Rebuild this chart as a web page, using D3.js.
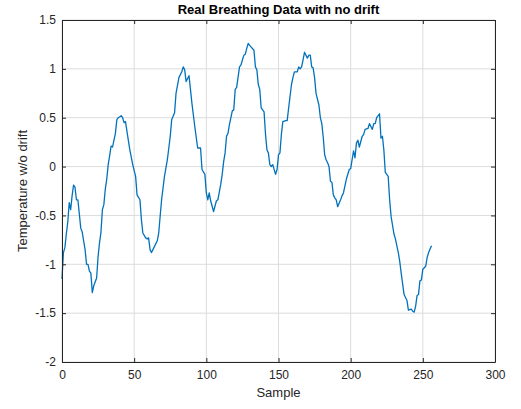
<!DOCTYPE html>
<html>
<head>
<meta charset="utf-8">
<script src="https://cdn.jsdelivr.net/npm/d3@7"></script>
<style>
  html, body { margin: 0; padding: 0; background: #fff; }
  svg { display: block; font-family: "Liberation Sans", Arial, sans-serif; }
</style>
</head>
<body>
<svg id="chart" width="521" height="409"></svg>
<script>
// ---- data ----
const titleText = "Real Breathing Data with no drift";
const xLabelText = "Sample";
const yLabelText = "Temperature w/o drift";
const xTicks = [0, 50, 100, 150, 200, 250, 300];
const yTicks = [-2, -1.5, -1, -0.5, 0, 0.5, 1, 1.5];
const sampleIndex = [
  0,1,2,3,4,5,6,7,8,9,10,11,13,14,16,17,18,19,20,21,22,24,25,26,27,28,29,30,31,32,
  33,34,35,37,38,39,41,42,43,44,45,47,49,51,52,54,55,56,58,59,60,61,62,63,66,67,69,71,73,75,
  76,78,79,81,83,84,85,86,88,89,90,92,94,96,97,99,100,101,102,103,105,107,108,110,111,112,113,114,115,116,
  118,119,120,121,123,124,126,127,128,129,130,133,134,135,136,137,138,140,141,142,143,144,145,146,148,149,150,151,152,153,
  155,156,158,159,160,161,163,164,165,166,167,168,170,171,172,173,174,175,176,178,179,180,181,182,183,184,185,186,187,188,
  189,190,191,193,194,195,196,197,199,200,201,202,203,204,205,206,208,209,210,212,213,215,216,217,218,220,221,222,223,224,
  226,227,228,230,231,233,234,235,236,237,238,239,240,242,243,244,245,246,247,248,249,250,252,253,254,256
];
const temperature = [
  -1.15,-0.88,-0.83,-0.69,-0.57,-0.37,-0.44,-0.30,-0.19,-0.21,-0.34,-0.34,-0.63,-0.67,-0.85,-1.00,-1.00,-1.07,-1.09,-1.29,-1.22,-1.14,-0.92,-0.78,-0.67,-0.44,-0.39,-0.23,-0.13,0.02,
  0.11,0.21,0.20,0.34,0.48,0.50,0.52,0.50,0.45,0.46,0.36,0.17,0.02,-0.10,-0.29,-0.34,-0.54,-0.68,-0.73,-0.74,-0.73,-0.85,-0.88,-0.85,-0.76,-0.68,-0.34,-0.10,0.07,0.31,
  0.48,0.55,0.75,0.91,0.97,1.02,0.99,0.87,0.93,0.79,0.65,0.41,0.19,0.19,-0.03,-0.08,-0.27,-0.34,-0.27,-0.35,-0.46,-0.35,-0.34,-0.18,-0.08,0.05,0.14,0.31,0.34,0.43,
  0.57,0.58,0.79,0.81,1.02,1.04,1.14,1.15,1.21,1.26,1.24,1.19,1.02,0.99,0.84,0.79,0.60,0.56,0.33,0.17,0.14,0.02,0.00,0.02,-0.08,-0.03,0.12,0.14,0.33,0.46,
  0.47,0.47,0.72,0.84,0.91,0.97,0.97,1.02,1.00,1.02,1.09,1.17,1.11,1.14,1.14,1.02,1.01,0.91,0.75,0.63,0.50,0.44,0.30,0.12,0.07,0.04,0.00,-0.15,-0.16,-0.29,
  -0.32,-0.34,-0.41,-0.34,-0.30,-0.27,-0.20,-0.13,-0.03,-0.02,0.07,0.16,0.09,0.24,0.27,0.20,0.31,0.33,0.38,0.39,0.44,0.38,0.44,0.44,0.50,0.54,0.29,0.31,0.17,-0.06,
  -0.10,-0.34,-0.51,-0.69,-0.74,-0.88,-0.97,-1.09,-1.20,-1.31,-1.34,-1.37,-1.47,-1.46,-1.48,-1.49,-1.43,-1.32,-1.31,-1.17,-1.16,-1.05,-1.02,-0.93,-0.88,-0.81
];

// ---- layout ----
const svg = d3.select("#chart");
const margin = { left: 62, top: 20, right: 521 - 495, bottom: 409 - 362 };
const W = 521, H = 409;
const x = d3.scaleLinear().domain([0, 300]).range([margin.left, W - margin.right]);
const y = d3.scaleLinear().domain([-2, 1.5]).range([H - margin.bottom, margin.top]);
const axisColor = "#262626";

// grid
const grid = svg.append("g");
grid.selectAll("line.gx").data(xTicks).join("line")
  .attr("x1", d => x(d)).attr("x2", d => x(d))
  .attr("y1", y(-2)).attr("y2", y(1.5))
  .attr("stroke", "#dcdcdc").attr("stroke-width", 1);
grid.selectAll("line.gy").data(yTicks).join("line")
  .attr("y1", d => y(d)).attr("y2", d => y(d))
  .attr("x1", x(0)).attr("x2", x(300))
  .attr("stroke", "#dcdcdc").attr("stroke-width", 1);

// data line
const data = sampleIndex.map((s, i) => [s, temperature[i]]);
svg.append("path").datum(data)
  .attr("fill", "none").attr("stroke", "#0072BD").attr("stroke-width", 1.3)
  .attr("stroke-linejoin", "round")
  .attr("d", d3.line().x(d => x(d[0])).y(d => y(d[1])));

// axes
const fmt = d => String(d);
const xAxisB = svg.append("g").attr("transform", `translate(0,${y(-2)})`)
  .call(d3.axisBottom(x).tickValues(xTicks).tickFormat(fmt).tickSizeInner(-4).tickSizeOuter(0).tickPadding(8));
const xAxisT = svg.append("g").attr("transform", `translate(0,${y(1.5)})`)
  .call(d3.axisTop(x).tickValues(xTicks).tickFormat("").tickSizeInner(-4).tickSizeOuter(0));
const yAxisL = svg.append("g").attr("transform", `translate(${x(0)},0)`)
  .call(d3.axisLeft(y).tickValues(yTicks).tickFormat(fmt).tickSizeInner(-4).tickSizeOuter(0).tickPadding(6));
const yAxisR = svg.append("g").attr("transform", `translate(${x(300)},0)`)
  .call(d3.axisRight(y).tickValues(yTicks).tickFormat("").tickSizeInner(-4).tickSizeOuter(0));

[xAxisB, xAxisT, yAxisL, yAxisR].forEach(g => {
  g.select(".domain").attr("stroke", axisColor).attr("stroke-width", 1);
  g.selectAll(".tick line").attr("stroke", axisColor);
  g.selectAll("text").attr("fill", axisColor).style("font-size", "12px")
    .style("font-family", "'Liberation Sans', Arial, sans-serif");
});
// make tick labels on x sit correctly
xAxisB.selectAll("text").attr("dy", "0.71em");

// title and labels
svg.append("text").attr("x", (x(0) + x(300)) / 2).attr("y", 14)
  .attr("text-anchor", "middle").attr("fill", "#000")
  .style("font-size", "13px").style("font-weight", "bold").text(titleText);
svg.append("text").attr("x", (x(0) + x(300)) / 2).attr("y", 397)
  .attr("text-anchor", "middle").attr("fill", axisColor)
  .style("font-size", "13px").text(xLabelText);
svg.append("text")
  .attr("transform", `translate(27,${(y(-2) + y(1.5)) / 2}) rotate(-90)`)
  .attr("text-anchor", "middle").attr("fill", axisColor)
  .style("font-size", "13px").text(yLabelText);
</script>
</body>
</html>
